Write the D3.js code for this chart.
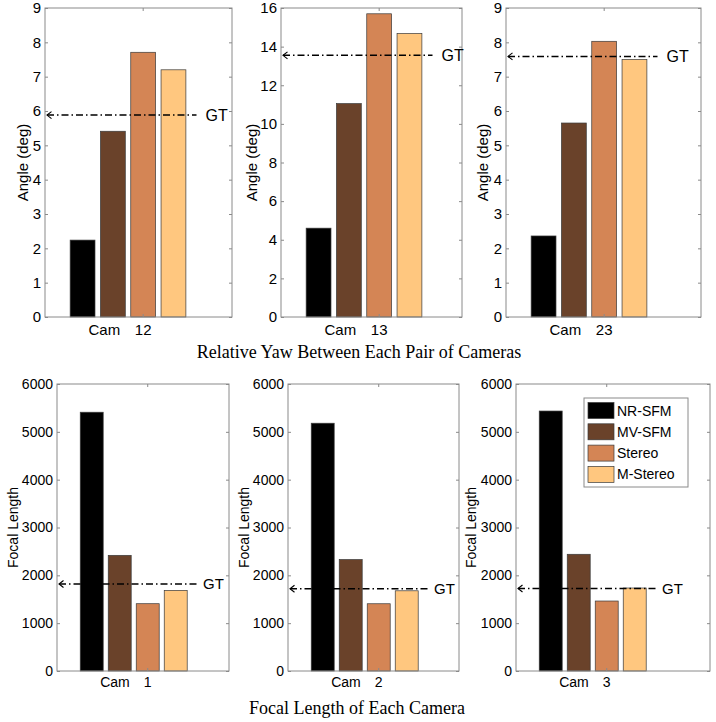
<!DOCTYPE html>
<html><head><meta charset="utf-8">
<script src="https://cdn.jsdelivr.net/npm/d3@7"></script>
<style>
html,body{margin:0;padding:0;background:#fff;}
svg{display:block;}
text{font-family:"Liberation Sans",Arial,Helvetica,sans-serif;fill:#000;}
</style></head>
<body>
<script>
// ---------------- data ----------------
const seriesNames = ["NR-SFM", "MV-SFM", "Stereo", "M-Stereo"];
const seriesColors = ["#000000", "#6A422A", "#D48555", "#FFC77F"];

const yawPairs = ["12", "13", "23"];
const yawNRSFM = [2.24, 4.60, 2.36];
const yawMVSFM = [5.41, 11.05, 5.65];
const yawStereo = [7.71, 15.70, 8.03];
const yawMStereo = [7.20, 14.68, 7.50];
const yawGT = [5.88, 13.55, 7.59];
const yawMax = [9, 16, 9];
const yawTicks = [[0,1,2,3,4,5,6,7,8,9], [0,2,4,6,8,10,12,14,16], [0,1,2,3,4,5,6,7,8,9]];

const focalCams = ["1", "2", "3"];
const focalNRSFM = [5410, 5180, 5435];
const focalMVSFM = [2418, 2330, 2440];
const focalStereo = [1407, 1406, 1463];
const focalMStereo = [1686, 1677, 1735];
const focalGT = [1818, 1719, 1725];
const focalMax = [6000, 6000, 6000];
const focalTicks = [[0,1000,2000,3000,4000,5000,6000],[0,1000,2000,3000,4000,5000,6000],[0,1000,2000,3000,4000,5000,6000]];

const titleTop = "Relative Yaw Between Each Pair of Cameras";
const titleBottom = "Focal Length of Each Camera";

// ---------------- layout ----------------
const W = 716, H = 722;
const svg = d3.select("body").append("svg").attr("width", W).attr("height", H);

const rows = [
  { top: 8, bottom: 317, step: 30.3, font: 15, ylab: "Angle (deg)", cats: yawPairs,
    vals: [yawNRSFM, yawMVSFM, yawStereo, yawMStereo], gt: yawGT, max: yawMax, ticks: yawTicks,
    lefts: [45, 281, 506], rights: [232, 462, 701], ylabX: [23, 252, 483], camBase: 335, camGap: 23, gtGap: 9 },
  { top: 384, bottom: 671, step: 28, font: 14, ylab: "Focal Length", cats: focalCams,
    vals: [focalNRSFM, focalMVSFM, focalStereo, focalMStereo], gt: focalGT, max: focalMax, ticks: focalTicks,
    lefts: [57, 288, 516], rights: [229, 459, 710], ylabX: [13, 244, 471], camBase: 687, camGap: 18, gtGap: 6 }
];

const barOffset = 0.83, barWidth = 0.82, tickPos = 3.24, gtEnd = 5.0;
const boxColor = "#8a8a8a";

rows.forEach((row, ri) => {
  row.cats.forEach((cat, pi) => {
    const L = row.lefts[pi], R = row.rights[pi];
    const x = d3.scaleLinear().domain([0, (R - L) / row.step]).range([L, R]);
    const y = d3.scaleLinear().domain([0, row.max[pi]]).range([row.bottom, row.top]);
    const g = svg.append("g");

    // bars
    const bars = seriesNames.map((s, si) => ({ s, si, v: row.vals[si][pi] }));
    g.selectAll("rect.bar").data(bars).join("rect")
      .attr("class", "bar")
      .attr("x", d => x(d.si + barOffset))
      .attr("width", d => x(d.si + barOffset + barWidth) - x(d.si + barOffset))
      .attr("y", d => y(d.v))
      .attr("height", d => y(0) - y(d.v))
      .attr("fill", d => seriesColors[d.si])
      .attr("stroke", "#3a3a3a")
      .attr("stroke-width", 0.7);

    // box
    g.append("rect").attr("x", L).attr("y", row.top).attr("width", R - L).attr("height", row.bottom - row.top)
      .attr("fill", "none").attr("stroke", boxColor).attr("stroke-width", 1);

    // y axis
    const ya = g.append("g").attr("transform", `translate(${L},0)`)
      .call(d3.axisLeft(y).tickValues(row.ticks[pi]).tickFormat(d3.format("d")).tickSize(-3).tickSizeOuter(0).tickPadding(4));
    ya.select(".domain").remove();
    ya.selectAll(".tick line").attr("stroke", boxColor);
    ya.selectAll(".tick text").attr("font-size", row.font).attr("font-family", "Liberation Sans, Arial, sans-serif").attr("fill", "#000");
    const yr = g.append("g").attr("transform", `translate(${R},0)`)
      .call(d3.axisRight(y).tickValues(row.ticks[pi]).tickFormat("").tickSize(-3).tickSizeOuter(0));
    yr.select(".domain").remove();
    yr.selectAll(".tick line").attr("stroke", boxColor);

    // x ticks (top and bottom, inward)
    const tx = x(tickPos);
    g.append("line").attr("x1", tx).attr("x2", tx).attr("y1", row.top).attr("y2", row.top + 3).attr("stroke", boxColor);
    g.append("line").attr("x1", tx).attr("x2", tx).attr("y1", row.bottom).attr("y2", row.bottom - 3).attr("stroke", boxColor);

    // x tick label
    g.append("text").attr("x", tx).attr("y", row.camBase).attr("text-anchor", "middle").attr("font-size", row.font).text(cat);
    g.append("text").attr("x", tx - row.camGap).attr("y", row.camBase).attr("text-anchor", "end").attr("font-size", row.font).text("Cam");

    // y label
    const cy = (row.top + row.bottom) / 2;
    g.append("text").attr("transform", `translate(${row.ylabX[pi]},${cy}) rotate(-90)`)
      .attr("text-anchor", "middle").attr("dy", "0.35em").attr("font-size", row.font).text(row.ylab);

    // GT line
    const gy = y(row.gt[pi]);
    const x0 = x(0) + 2, x1 = x(gtEnd);
    g.append("line").attr("x1", x0).attr("x2", x1).attr("y1", gy).attr("y2", gy)
      .attr("stroke", "#000").attr("stroke-width", 1.5).attr("stroke-dasharray", "7,3,1.5,3");
    g.append("path").attr("d", `M${x0 + 4.5},${gy - 3.5} L${x0},${gy} L${x0 + 4.5},${gy + 3.5}`)
      .attr("fill", "none").attr("stroke", "#000").attr("stroke-width", 1.1);
    g.append("text").attr("x", x1 + row.gtGap).attr("y", gy).attr("dy", "0.36em").attr("font-size", row.font + 1).text("GT");

    // legend in the last bottom panel
    if (ri === 1 && pi === 2) {
      const lx = 584, ly = 398, lw = 104, lh = 89;
      const lg = svg.append("g");
      lg.append("rect").attr("x", lx).attr("y", ly).attr("width", lw).attr("height", lh)
        .attr("fill", "#fff").attr("stroke", boxColor).attr("stroke-width", 1);
      const items = lg.selectAll("g.item").data(seriesNames).join("g").attr("class", "item")
        .attr("transform", (d, i) => `translate(${lx + 4},${ly + 4.5 + i * 21.3})`);
      items.append("rect").attr("width", 26).attr("height", 16)
        .attr("fill", (d, i) => seriesColors[i]).attr("stroke", "#3a3a3a").attr("stroke-width", 0.7);
      items.append("text").attr("x", 29).attr("y", 8).attr("dy", "0.36em").attr("font-size", 14).text(d => d);
    }
  });
});

// section titles
svg.append("text").attr("x", 359).attr("y", 358).attr("text-anchor", "middle")
  .attr("font-family", "Liberation Serif, Times New Roman, serif").attr("font-size", 18).style("font-family", "'Liberation Serif','Times New Roman',serif").text(titleTop);
svg.append("text").attr("x", 357).attr("y", 714).attr("text-anchor", "middle")
  .style("font-family", "'Liberation Serif','Times New Roman',serif").attr("font-size", 18).text(titleBottom);
</script>
</body></html>
